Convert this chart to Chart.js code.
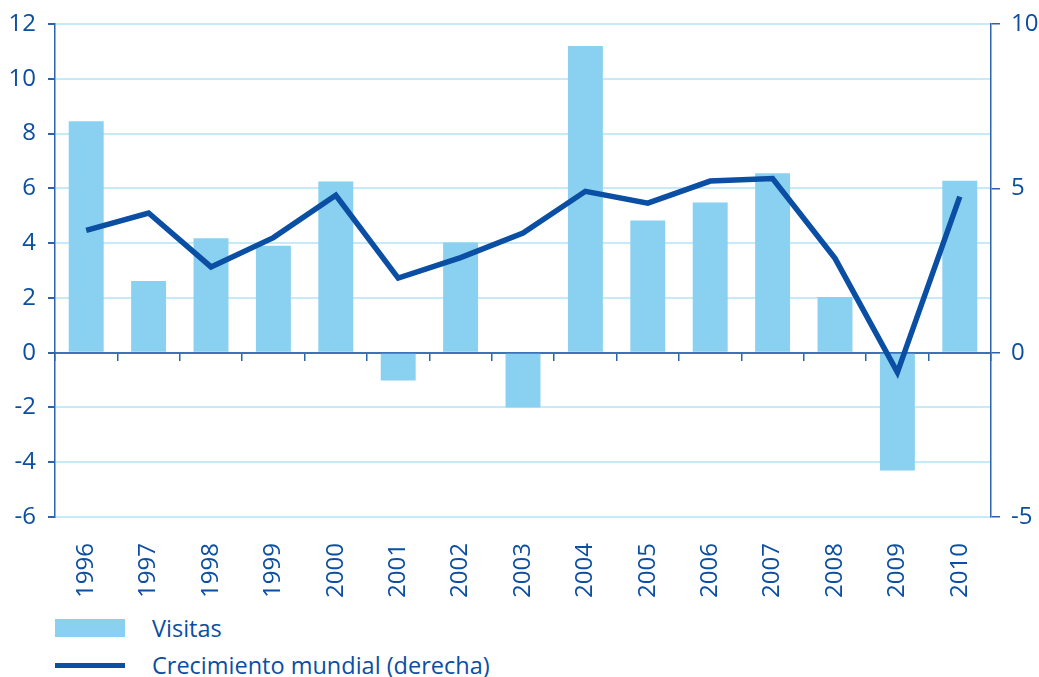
<!DOCTYPE html>
<html>
<head>
<meta charset="utf-8">
<script src="https://cdn.jsdelivr.net/npm/chart.js@4"></script>
<style>
  body { margin: 0; background: #fff; }
  #wrap { position: relative; width: 1039px; height: 677px; }
  #chart { position: absolute; left: 0; top: 0; }
  .legend-item { position: absolute; left: 55px; font-family: "Open Sans", sans-serif; font-size: 23.5px; font-weight: 500; color: #0b4ea2; }
  .swatch { position: absolute; left: 0; width: 70px; }
  .legend-item span { position: absolute; left: 97px; white-space: nowrap; line-height: 24px; }
</style>
</head>
<body>
<div id="wrap">
  <canvas id="chart" width="1039" height="610"></canvas>
  <div class="legend-item" style="top: 616px;">
    <div class="swatch" style="top: 3px; height: 18px; background: #8ad0f0;"></div>
    <span style="top: 0;">Visitas</span>
  </div>
  <div class="legend-item" style="top: 653px;">
    <div class="swatch" style="top: 10px; height: 5px; background: #0a4fa3;"></div>
    <span style="top: 0;">Crecimiento mundial (derecha)</span>
  </div>
</div>
<script>
// values
const years = ['1996', '1997', '1998', '1999', '2000', '2001', '2002', '2003',
               '2004', '2005', '2006', '2007', '2008', '2009', '2010'];
const visitas = [8.45, 2.62, 4.18, 3.9, 6.25, -1.02, 4.02, -2.0,
                 11.2, 4.83, 5.48, 6.55, 2.03, -4.3, 6.28];
const crecimiento = [3.72, 4.25, 2.61, 3.5, 4.79, 2.27, 2.89, 3.64,
                     4.91, 4.55, 5.22, 5.3, 2.87, -0.6, 4.75];
const leftTicks = [-6, -4, -2, 0, 2, 4, 6, 8, 10, 12];
const rightTicks = [-5, 0, 5, 10];

const dark = '#0b4ea2';
const axisBlue = '#2d62ad';
const gridBlue = '#c6eaf8';
const tickFont = { family: '"Open Sans", sans-serif', size: 24, weight: '500', lineHeight: 1 };

const ctx = document.getElementById('chart');
new Chart(ctx.getContext('2d'), {
  data: {
    labels: years,
    datasets: [
      {
        type: 'line',
        label: 'Crecimiento mundial (derecha)',
        data: crecimiento,
        yAxisID: 'y2',
        borderColor: '#0a4fa3',
        borderWidth: 5.5,
        pointRadius: 0,
        tension: 0,
        fill: false,
        order: 0
      },
      {
        type: 'bar',
        label: 'Visitas',
        data: visitas,
        yAxisID: 'y',
        backgroundColor: '#8ad0f0',
        borderWidth: 0,
        barPercentage: 0.56,
        categoryPercentage: 1,
        order: 1
      }
    ]
  },
  options: {
    responsive: false,
    animation: false,
    layout: { padding: { top: 23, bottom: 3, left: 0, right: 0 } },
    plugins: { legend: { display: false }, tooltip: { enabled: false } },
    scales: {
      x: {
        type: 'category',
        position: 'bottom',
        offset: true,
        border: { display: false },
        grid: { display: false, drawTicks: false },
        ticks: {
          color: dark, font: tickFont, padding: 26,
          maxRotation: 90, minRotation: 90, autoSkip: false
        },
        afterFit: (scale) => { scale.height = 90; }
      },
      xZero: {
        type: 'category',
        position: { y: 0 },
        axis: 'x',
        offset: true,
        border: { display: true, color: '#3c73b8', width: 2 },
        grid: {
          offset: true, drawOnChartArea: false, drawTicks: true,
          tickLength: 7, color: axisBlue, lineWidth: 1.5
        },
        ticks: { display: false }
      },
      y: {
        position: 'left',
        min: -6, max: 12,
        afterBuildTicks: (scale) => { scale.ticks = leftTicks.map(v => ({ value: v })); },
        border: { display: true, color: axisBlue, width: 1.5 },
        grid: {
          color: (c) => c.tick && c.tick.value === 0 ? '#5b8fcc' : gridBlue,
          lineWidth: 2, tickLength: 7,
          tickColor: axisBlue
        },
        ticks: { color: dark, font: tickFont, padding: 12 },
        afterFit: (scale) => { scale.width = 55; }
      },
      y2: {
        position: 'right',
        min: -5, max: 10,
        afterBuildTicks: (scale) => { scale.ticks = rightTicks.map(v => ({ value: v })); },
        border: { display: true, color: axisBlue, width: 1.5 },
        grid: { drawOnChartArea: false, tickLength: 9, color: axisBlue, lineWidth: 1.5 },
        ticks: { color: dark, font: tickFont, padding: 11 },
        afterFit: (scale) => { scale.width = 48; }
      }
    }
  }
});
</script>
</body>
</html>
